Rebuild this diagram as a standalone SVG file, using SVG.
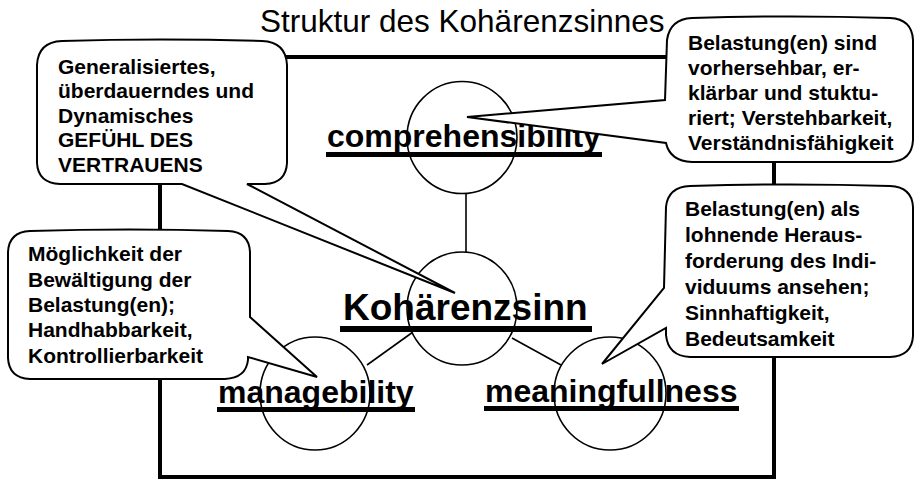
<svg xmlns="http://www.w3.org/2000/svg" width="914" height="480" viewBox="0 0 914 480">
<style>
  .frame{fill:none;stroke:#000;stroke-width:4}
  .conn{stroke:#000;stroke-width:1.6;fill:none}
  .circ{fill:#fff;stroke:#000;stroke-width:1.6}
  .call{fill:#fff;stroke:#000;stroke-width:2;stroke-linejoin:miter}
  .ct{font-family:"Liberation Sans",Arial,sans-serif;font-weight:bold;font-size:21px;fill:#000}
  .lbl{font-family:"Liberation Sans",Arial,sans-serif;font-weight:bold;fill:#000}
  .ul{fill:#000}
  .title{font-family:"Liberation Sans",Arial,sans-serif;font-size:31.5px;fill:#000}
</style>
<rect width="914" height="480" fill="#fff"/>
<text class="title" x="260" y="32">Struktur des Kohärenzsinnes</text>
<rect class="frame" x="160" y="57" width="614" height="420"/>
<g id="connectors">
  <line class="conn" x1="466" y1="193" x2="466" y2="252"/>
  <line class="conn" x1="413" y1="332" x2="367" y2="365"/>
  <line class="conn" x1="512" y1="338" x2="561" y2="365"/>
</g>
<g id="comprehensibility">
  <ellipse class="circ" cx="462" cy="137.5" rx="55" ry="56"/>
  <text class="lbl" x="327" y="147" font-size="32">comprehensibility</text>
  <rect class="ul" x="326" y="152" width="276" height="5"/>
</g>
<g id="kohaerenzsinn">
  <ellipse class="circ" cx="462" cy="308.5" rx="55" ry="56.5"/>
  <text class="lbl" x="343" y="320" font-size="37">Kohärenzsinn</text>
  <rect class="ul" x="340" y="326" width="252" height="6"/>
</g>
<g id="managebility">
  <ellipse class="circ" cx="315" cy="393.5" rx="55" ry="56.5"/>
  <text class="lbl" x="218" y="403" font-size="32">managebility</text>
  <rect class="ul" x="217" y="407" width="198" height="5"/>
</g>
<g id="meaningfullness">
  <ellipse class="circ" cx="610" cy="393.5" rx="56" ry="56.5"/>
  <text class="lbl" x="485" y="402" font-size="32">meaningfullness</text>
  <rect class="ul" x="484" y="406" width="255" height="5"/>
</g>
<g id="callout-vertrauen">
  <path class="call" d="M62,41 Q160,38 262,41 Q286,42 287,65 L287,163 Q286,183 265,184 L247,184 L455,293 L182,184 L60,184 Q38,183 37,163 L37,65 Q38,42 62,41 Z"/>
  <text class="ct" x="58" y="73.5">Generalisiertes,</text>
  <text class="ct" x="58" y="98">überdauerndes und</text>
  <text class="ct" x="58" y="122.5">Dynamisches</text>
  <text class="ct" x="58" y="147">GEFÜHL DES</text>
  <text class="ct" x="58" y="171.5">VERTRAUENS</text>
</g>
<g id="callout-comprehensibility">
  <path class="call" d="M692,18 Q790,15 890,18 Q912,19 913,40 L913,140 Q912,161 890,162 L692,162 Q670,161 666,143 L467,117 L665,100 L667,40 Q670,19 692,18 Z"/>
  <text class="ct" x="688" y="50">Belastung(en) sind</text>
  <text class="ct" x="688" y="75">vorhersehbar, er-</text>
  <text class="ct" x="688" y="100">klärbar und stuktu-</text>
  <text class="ct" x="688" y="125">riert; Verstehbarkeit,</text>
  <text class="ct" x="688" y="150">Verständnisfähigkeit</text>
</g>
<g id="callout-meaningfullness">
  <path class="call" d="M690,186 Q790,183 890,186 Q912,187 913,207 L913,336 Q912,356 890,357 L690,357 Q668,356 666,335 L666,328 L602,364 L664,288 L666,207 Q668,187 690,186 Z"/>
  <text class="ct" x="685" y="216">Belastung(en) als</text>
  <text class="ct" x="685" y="242">lohnende Heraus-</text>
  <text class="ct" x="685" y="268">forderung des Indi-</text>
  <text class="ct" x="685" y="294">viduums ansehen;</text>
  <text class="ct" x="685" y="320">Sinnhaftigkeit,</text>
  <text class="ct" x="685" y="346">Bedeutsamkeit</text>
</g>
<g id="callout-managebility">
  <path class="call" d="M30,231 Q130,228 228,231 Q249,232 250,252 L250,317 L317,377 L248,357 L248,360 Q246,378 225,379 L30,379 Q9,378 8,358 L8,252 Q9,232 30,231 Z"/>
  <text class="ct" x="28" y="261">Möglichkeit der</text>
  <text class="ct" x="28" y="286.5">Bewältigung der</text>
  <text class="ct" x="28" y="312">Belastung(en);</text>
  <text class="ct" x="28" y="337">Handhabbarkeit,</text>
  <text class="ct" x="28" y="362.5">Kontrollierbarkeit</text>
</g>
</svg>
